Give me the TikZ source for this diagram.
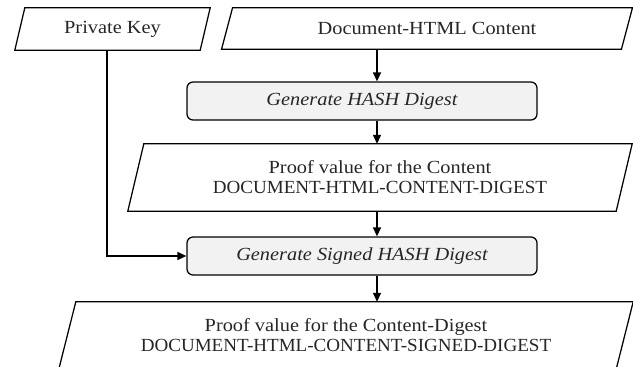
\documentclass[tikz,border=0pt]{standalone}
\usepackage{fontspec}
\setmainfont{Liberation Serif}
\usetikzlibrary{arrows.meta,calc}
\definecolor{inkgray}{HTML}{262626}
\definecolor{procfill}{HTML}{F2F2F2}
% slightly wider setting for mixed-case and capital lines
\newcommand\widen[1]{\scalebox{1.1}[1]{#1}}
\newcommand\capsline[1]{\scalebox{1.03}[1]{#1}}
% draw a parallelogram around an (invisible) node; #2 = half of the slant
\newcommand\slantframe[2]{%
  \draw[frame] ($(#1.north west)+(#2,0)$) -- ($(#1.north east)+(#2,0)$)
    -- ($(#1.south east)+(-#2,0)$) -- ($(#1.south west)+(-#2,0)$) -- cycle;}

\begin{document}
\begin{tikzpicture}[x=1pt,y=-1pt,
  txt/.style={font=\fontsize{18.5}{20}\selectfont, text=inkgray, align=center, inner sep=0pt},
  frame/.style={draw=black, line width=1.25pt, line join=miter},
  datanode/.style={txt, shape=rectangle},
  procbox/.style={txt, draw=black, fill=procfill, line width=1.25pt, rounded corners=6pt,
    minimum width=350pt, minimum height=38pt, font=\fontsize{18.5}{20}\selectfont\itshape},
  flow/.style={draw=black, line width=1.3pt, -{Triangle[length=9pt,width=8pt]}}
]
\useasboundingbox (0,0) rectangle (633,367);

% data (input/output) shapes
\node[datanode, minimum width=185pt, minimum height=42pt] (key) at (112.5,29) {\widen{Private Key}};
\node[datanode, minimum width=399.5pt, minimum height=41pt] (doc) at (427,28.5) {\widen{Document-HTML Content}};
\node[datanode, minimum width=488pt, minimum height=67pt] (proof) at (380,177.5)
  {\widen{Proof value for the Content}\\\capsline{DOCUMENT-HTML-CONTENT-DIGEST}};
\node[datanode, minimum width=557pt, minimum height=67pt] (signedproof) at (346,335.5)
  {\widen{Proof value for the Content-Digest}\\\capsline{DOCUMENT-HTML-CONTENT-SIGNED-DIGEST}};

\slantframe{key}{5}
\slantframe{doc}{5.5}
\slantframe{proof}{8}
\slantframe{signedproof}{8.5}

% process boxes
\node[procbox] (hash) at (362,101) {\widen{Generate HASH Digest}};
\node[procbox] (sign) at (362,256) {\widen{Generate Signed HASH Digest}};

% connector guide lines
\coordinate (axis) at (377,0);
\coordinate (keyline) at (107,0);

\draw[flow] (doc.south -| axis) -- (hash.north -| axis);
\draw[flow] (hash.south -| axis) -- (proof.north -| axis);
\draw[flow] (proof.south -| axis) -- (sign.north -| axis);
\draw[flow] (sign.south -| axis) -- (signedproof.north -| axis);
\draw[flow] (key.south -| keyline) |- (sign.west);
\end{tikzpicture}
\end{document}
